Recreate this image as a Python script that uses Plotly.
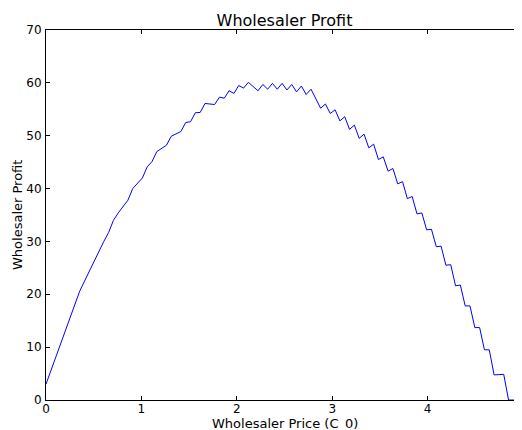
import numpy as np
import plotly.graph_objects as go

# x grid: wholesaler price C_0 sampled on 100 points from 0 to 5
price = np.linspace(0, 5, 100)

profit = [
    3.0, 5.5, 8.0, 10.5, 13.0, 15.5, 18.0, 20.6, 22.5, 24.4,
    26.5, 28.3, 30.0, 31.7, 34.0, 35.4, 36.6, 37.8, 40.0, 41.0,
    42.0, 44.1, 45.1, 47.0, 47.6, 48.2, 49.9, 50.4, 50.8, 52.5,
    52.65, 54.35, 54.4, 56.1, 56.0, 55.9, 57.3, 57.1, 58.5, 58.0,
    59.5, 59.0, 60.1, 59.3, 58.5, 59.7, 58.8, 59.9, 58.8, 59.9,
    58.65, 59.7, 58.3, 59.4, 57.8, 58.8, 57.0, 55.2, 56.0, 54.2,
    54.9, 52.8, 53.6, 51.2, 52.0, 49.5, 50.3, 47.7, 48.4, 45.5,
    46.0, 43.3, 43.8, 40.9, 41.3, 38.1, 38.5, 35.2, 35.4, 32.2,
    32.3, 29.0, 29.1, 25.5, 25.6, 21.6, 21.75, 17.8, 17.8, 13.7,
    13.7, 9.5, 9.5, 4.75, 4.8, 4.85, 0.0, 0.0, 0.0, 0.0,
]

x_ticks = [0, 1, 2, 3, 4, 5]
y_ticks = [0, 10, 20, 30, 40, 50, 60, 70]

FONT = "DejaVu Sans"

fig = go.Figure()
fig.add_trace(go.Scatter(
    x=price, y=profit, mode="lines",
    line=dict(color="#0000ff", width=1),
    showlegend=False, hoverinfo="skip",
))

axis_common = dict(
    showgrid=False, zeroline=False, automargin=False,
    showline=True, linecolor="black", linewidth=1,
    mirror="allticks", ticks="inside", ticklen=4, tickwidth=1, tickcolor="black",
    tickfont=dict(family=FONT, size=12, color="black"),
)

fig.update_xaxes(
    range=[0, 5], tickvals=x_ticks, ticktext=[str(v) for v in x_ticks],
    ticklabelstandoff=-2,
    **axis_common,
)
fig.update_yaxes(
    range=[0, 70], tickvals=y_ticks, ticktext=[str(v) for v in y_ticks],
    ticklabelstandoff=1,
    **axis_common,
)

W, H = 522, 422
L, R, T, B = 38, 7, 22, 30

fig.update_layout(
    width=W, height=H,
    margin=dict(l=L, r=R, t=T, b=B),
    paper_bgcolor="white", plot_bgcolor="white",
    title=dict(text="Wholesaler Profit", x=(L + 238.5) / W, xanchor="center",
               y=1 - 12 / H, yanchor="middle",
               font=dict(family=FONT, size=16, color="black")),
    annotations=[
        dict(text="Wholesaler Price (C_0)", xref="paper", yref="paper",
             x=0.5, y=0, xanchor="center", yanchor="middle", yshift=-23,
             showarrow=False, font=dict(family=FONT, size=13, color="black")),
        dict(text="Wholesaler Profit", xref="paper", yref="paper",
             x=0, y=0.5, xanchor="center", yanchor="middle", xshift=-29,
             textangle=-90,
             showarrow=False, font=dict(family=FONT, size=13, color="black")),
    ],
)

fig.write_html("out.html")
